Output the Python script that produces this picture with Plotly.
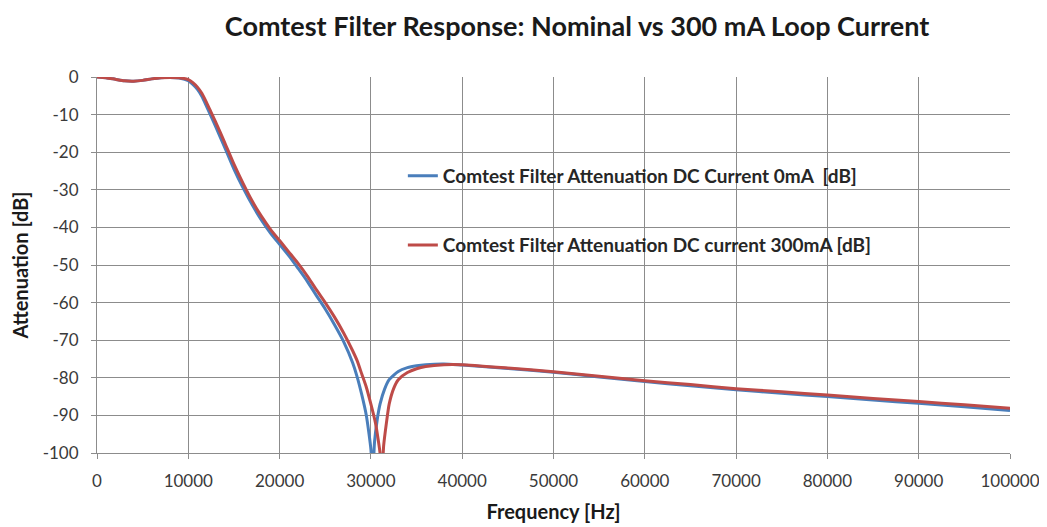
import plotly.graph_objects as go

# Frequency [Hz] and attenuation [dB]
freq_0ma = [0, 1000, 2000, 3000, 4000, 5000, 6000, 7000, 8000, 9000, 10000,
            10500, 11000, 11500, 12000, 12500, 13000, 14000, 15000, 16000,
            17000, 18000, 19000, 20000, 21000, 22000, 23000, 24000, 25000,
            26000, 27000, 28000, 28500, 29000, 29500, 29800, 30000, 30200,
            30400, 30700, 31000, 31500, 32000, 33000, 34000, 35000, 36000,
            38000, 40000, 45000, 50000, 55000, 60000, 65000, 70000, 75000,
            80000, 85000, 90000, 95000, 100000]
att_0ma = [0, -0.2, -0.6, -1.0, -1.1, -0.9, -0.5, -0.2, -0.1, -0.3, -1.0,
           -2.0, -3.3, -5.2, -7.8, -10.5, -13.2, -18.8, -24.5, -29.5,
           -34.0, -38.0, -41.5, -44.5, -47.5, -50.8, -54.2, -58.0, -61.7,
           -65.8, -70.3, -76.0, -79.8, -84.5, -90.0, -95.0, -99.0, -106.0,
           -97.0, -91.0, -87.0, -83.0, -80.5, -78.3, -77.3, -76.8, -76.5,
           -76.3, -76.6, -77.5, -78.5, -79.8, -81.0, -82.1, -83.2, -84.1,
           -85.0, -85.9, -86.8, -87.7, -88.7]

freq_300ma = [0, 1000, 2000, 3000, 4000, 5000, 6000, 7000, 8000, 9000, 10000,
              10500, 11000, 11500, 12000, 12500, 13000, 14000, 15000, 16000,
              17000, 18000, 19000, 20000, 21000, 22000, 23000, 24000, 25000,
              26000, 27000, 28000, 28500, 29000, 29500, 30000, 30500, 30800,
              31000, 31200, 31400, 31700, 32000, 32500, 33000, 34000, 35000,
              36000, 38000, 40000, 45000, 50000, 55000, 60000, 65000, 70000,
              75000, 80000, 85000, 90000, 95000, 100000]
att_300ma = [0, -0.2, -0.6, -1.0, -1.1, -0.9, -0.5, -0.2, -0.1, -0.2, -0.7,
             -1.5, -2.7, -4.4, -6.8, -9.4, -12.0, -17.5, -23.2, -28.3,
             -33.0, -37.0, -40.5, -43.5, -46.5, -49.5, -52.8, -56.5, -60.0,
             -63.8, -68.0, -72.8, -75.5, -79.0, -82.5, -87.0, -92.0, -96.5,
             -100.0, -106.0, -98.0, -92.0, -87.0, -82.8, -80.5, -78.6, -77.6,
             -77.0, -76.5, -76.5, -77.4, -78.4, -79.6, -80.8, -81.8, -82.9,
             -83.7, -84.6, -85.5, -86.3, -87.2, -88.1]

x_ticks = [0, 10000, 20000, 30000, 40000, 50000, 60000, 70000, 80000, 90000, 100000]
y_ticks = [0, -10, -20, -30, -40, -50, -60, -70, -80, -90, -100]

name_0ma = "Comtest Filter Attenuation DC Current 0mA  [dB]"
name_300ma = "Comtest Filter Attenuation DC current 300mA [dB]"
title = "Comtest Filter Response: Nominal vs 300 mA Loop Current"

FONT = "Lato"
GRID = "#8c8c8c"
TICKCOL = "#3a3a3a"

fig = go.Figure()
fig.add_trace(go.Scatter(x=freq_0ma, y=att_0ma, mode="lines", name=name_0ma,
                         line=dict(color="#4a7ebb", width=3, shape="spline", smoothing=0.6),
                         legend="legend"))
fig.add_trace(go.Scatter(x=freq_300ma, y=att_300ma, mode="lines", name=name_300ma,
                         line=dict(color="#be4b48", width=3, shape="spline", smoothing=0.6),
                         legend="legend2"))

legend_common = dict(bgcolor="rgba(0,0,0,0)", borderwidth=0,
                     font=dict(family=FONT, size=19, color="#262626", weight="bold"),
                     xanchor="left", yanchor="middle", itemwidth=30)

fig.update_layout(
    width=1047, height=527,
    margin=dict(l=89, r=45, t=69, b=82, autoexpand=False),
    paper_bgcolor="white", plot_bgcolor="white",
    title=dict(text="<b>" + title + "</b>", x=0.5435, xanchor="center",
               y=0.964, yanchor="middle",
               font=dict(family=FONT, size=27, color="#1a1a1a")),
    legend=dict(x=0.335, y=0.737, **legend_common),
    legend2=dict(x=0.335, y=0.553, **legend_common),
    showlegend=True,
)

fig.update_xaxes(range=[0, 100000], tickvals=x_ticks,
                 ticktext=[str(v) for v in x_ticks],
                 showgrid=True, gridcolor=GRID, gridwidth=1,
                 showline=True, linecolor=GRID, linewidth=1,
                 ticks="outside", ticklen=5, tickcolor=GRID,
                 ticklabelstandoff=8, automargin=False,
                 zeroline=False,
                 tickfont=dict(family=FONT, size=17, color=TICKCOL),
                 title=dict(text="<b>Frequency [Hz]</b>", standoff=14,
                            font=dict(family=FONT, size=20, color="#1a1a1a")))
fig.update_yaxes(range=[-100, 0], tickvals=y_ticks,
                 ticktext=[str(v) for v in y_ticks],
                 showgrid=True, gridcolor=GRID, gridwidth=1,
                 showline=True, linecolor=GRID, linewidth=1,
                 ticks="outside", ticklen=5, tickcolor=GRID,
                 ticklabelstandoff=9, automargin=False,
                 zeroline=False,
                 tickfont=dict(family=FONT, size=17, color=TICKCOL),
                 title=dict(text="<b>Attenuation [dB]</b>", standoff=10,
                            font=dict(family=FONT, size=20, color="#1a1a1a")))

fig.write_html("out.html")
